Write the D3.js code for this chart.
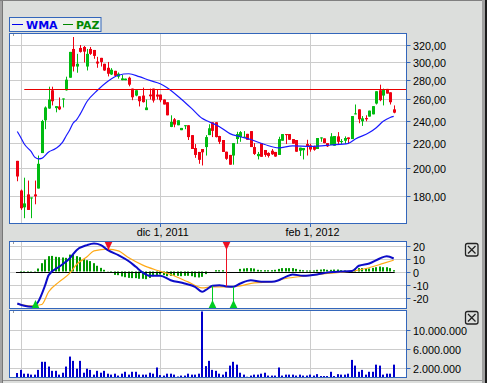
<!DOCTYPE html>
<html>
<head>
<meta charset="utf-8">
<script src="https://d3js.org/d3.v7.min.js"></script>
<style>
  html, body { margin: 0; padding: 0; background: #dcdedc; }
  svg { display: block; }
  text { font-family: "Liberation Sans", Arial, sans-serif; font-size: 10.8px; fill: #000; }
  .legend text { font-family: "DejaVu Sans", sans-serif; font-size: 11px; font-weight: bold; }
</style>
</head>
<body>
<svg id="chart" width="487" height="383"></svg>
<script>
// Candles, one per trading day
const opens = [205.8,183.8,172.4,181.1,178.4,181.1,185.2,212,240.2,251.2,269.3,251.6,253.2,260,269.3,282.5,315.2,294.8,316.4,317.6,
  294.8,315.2,314,300.4,304.7,297.9,293.4,286,290,283.6,279.8,279.8,282.5,271,263.9,263.2,263.9,249.7,264.9,271,
  264.9,264.9,260,257.3,234.2,241.1,235.7,231.3,234.8,235.7,227,216.1,212.9,215.3,216.9,227,238.4,238.4,226.2,222.8,
  213.1,210.5,210,223.6,225.3,224.7,228.1,230.5,216.9,209.5,220.2,214.5,212.1,213.9,212.9,210.5,222.2,227.9,227.9,223.6,
  222.8,213.9,214.3,219.4,218.3,217.3,215.3,224.2,224.2,220.2,218.6,218,225.9,221.1,222.2,225,223.6,245.7,250.4,239.3,
  242.3,243.6,245.7,256,269.3,263.9,270.7,267.2,250.4];
const closes = [193.9,171.8,175,170.7,179,179.8,203.5,239.5,252.2,260,258.3,253.5,250.4,261,280.4,311.7,294.8,297.9,311.7,312,
  309.4,309.4,307,298.2,300,290.4,286.8,291.2,284.6,286.8,281.8,281.5,275.1,262.2,269.3,258.3,257.4,252.2,263.2,259,
  262.9,259.3,255.1,244.8,238.7,236.3,240.2,233.3,235.7,225.3,215.3,210.5,206.6,212.6,225.3,233,230.7,225.3,221.3,212.9,
  207.4,202.8,220.2,227.9,229.6,225.6,223,216.9,211.3,211.3,209,210.5,209.7,211,209.2,223.6,227.9,227,223,219.7,
  213.1,216.4,216.1,217.5,214.9,214.7,224.5,225,220.2,217.5,225.9,226.2,221.3,221.9,224.5,223.6,244.1,246.6,241.1,242,
  241.1,249.2,253.5,268.3,259.3,270,265.9,257.3,247.3];
const highs = [205.8,184.5,193,190.9,179,190.9,210,240.6,253.2,273,273,253.5,262,261,283.6,311.7,329.9,309.4,320,318.8,
  315.2,317.6,314,305.9,304.7,297.9,300,293,290,288.2,285.4,281.5,283.6,271,269.3,263.2,272,260,271,271,
  270,264.9,260,257.3,244.8,242.3,240.2,233.3,235.7,235.7,227,219.4,212.9,215.3,227,236.6,238.4,238.4,226.4,222.8,
  213.1,210.5,220.2,229.9,230.5,230.5,228.1,230.5,220.2,212.9,220.2,214.5,212.6,215.3,212.9,225.6,227.9,227.9,227.9,223.6,
  222.8,216.4,216.1,223,219.7,218,224.5,225,224.2,220.2,228.7,226.2,229.6,223.6,225.9,225,244.1,255.1,250.4,244.1,
  244.8,249.2,253.5,268.3,275.1,271,270.7,267.2,254.2];
const lows = [190.4,170.7,165.4,170.7,165.4,174.4,185.2,212,232.2,251,254.2,247.6,249.7,252.2,269,282.5,289.3,287.9,310.9,299.4,
  290.4,308.2,303.6,293.4,294.8,290,283.9,285.4,283.3,281.5,279.8,279.8,273.4,259.3,263.2,253.2,257,249.7,260,257,
  260,257.3,255.1,244.8,234,233.9,235.7,231.3,232.2,222.8,215.3,208.2,203.5,202.2,210,227,225.3,225,219.4,212.9,
  206.6,202.8,202.8,219.6,221.3,224.7,223,216.9,210.5,206.9,209,209,208.4,210.5,209,210.5,222.2,219.4,223,219.7,
  213,209.7,206.9,210,213.1,213.9,215.3,221.3,220,217,218.6,218,218.6,219.4,219.4,219.4,223.6,245.7,237.5,235.1,
  239.3,243.6,245.7,255.1,258.3,254.2,265.9,255.1,246.7];

// Weighted moving average, read at these candle positions
const wmaIndex = [0,1,2,4,5,6,7,9,11,13,14,15,16,17,18,20,23,26,29,32,35,38,41,43,47,50,53,55,58,61,64,67,71,75,79,84,90,95,97,101,103,105,107,108];
const wmaValues = [230.2,225,219.4,213.1,208.7,207.4,207.8,212.9,215.7,221,226.2,231.3,237.5,240.6,245.7,258,269.3,278.8,285.2,286.8,283.6,279.6,276.1,272,260.5,251.3,242,238.9,234.4,228.3,225.6,223.2,219,216.3,217.8,217.5,218.6,220,223.6,229.2,233.5,239.3,242.8,243.8];
const resistance = 270.7;

// MACD panel
const histValues = [0,-1.2,-1,-1,-0.3,0.3,2.3,6.4,9.2,11.8,12,11.3,11,10.8,10.5,13,13,11.8,11,9.5,
  8.7,8,6.4,4.4,2.8,1.3,0.2,-1,-2.6,-2.8,-3.8,-4.4,-4.9,-5.1,-5.1,-5.6,-5.6,-5.9,-4.9,-3.6,
  -2.8,-2.3,-2.8,-3.6,-3.3,-3.3,-3.3,-3.6,-3.3,-3.3,-3.6,-4.4,-4.6,-4.1,-2,0,0,1,1,1,
  0,0,0,0,2,2.3,2.6,2.6,2.3,1.3,1,1,1,1,1.3,2,2.6,2.6,2.6,2.6,
  2,1.3,1,0.8,0.8,0.8,1.3,1.5,1.8,1.3,1.3,1.5,1.5,1,0.8,0.3,0.5,2,2.6,2.6,
  2.6,2.3,2.8,3.3,3.8,3.3,3.3,2.6,1];
const macdIndex = [0,2,4,5,6,8,9,12,15,17,20,22,24,26,29,32,34,36,38,41,44,48,51,53,54,56,58,60,62,64,67,70,73,75,77,79,82,86,89,91,96,98,101,104,106,108];
const macdValues = [-24.6,-26.4,-27.2,-26.7,-23.3,-10.5,-2.8,3.6,10,16.4,20.3,21.5,20.3,16.4,12.6,7.9,3.6,-0.8,-3.3,-3.3,-6.7,-9.2,-11.8,-15.6,-14.4,-11,-10.5,-11.5,-11.8,-9.2,-6.7,-7.9,-7.9,-6.7,-4.1,-2.3,-3.3,-2.3,-0.8,-0.3,0.3,4.4,6.2,10,11.8,10];
const signalIndex = [0,4,7,9,12,15,17,20,22,26,29,32,36,40,44,49,53,56,60,64,68,73,77,82,89,91,96,100,105,108];
const signalValues = [-25,-26.4,-25.4,-15.6,-8,-1.5,5.4,11.3,15.9,17.2,15.9,10.5,4.9,1,-2.3,-8,-12.6,-11.8,-11.8,-11,-8.7,-8,-5.4,-3.6,-1.5,-1,0.3,2.3,6.2,8.7];
const buySignals = [5,56,62];
const sellSignals = [26,60];

// Volume panel, in millions
const volumes = [0.84,1.5,0.7,0.7,0.5,0.5,1.5,3.2,3.2,2.2,1.3,1.3,0.5,0.9,2.2,4.3,3.4,1.75,3.4,0.9,
  1.75,1.5,0.5,1.3,0.9,1.3,0.7,0.5,0.7,0.3,0.7,1.1,0.5,1.1,1.1,0.5,0.5,0.5,0.9,0.7,
  2,0.4,0.3,0.7,0.7,0.5,0.1,0.3,0.3,0.7,0.5,0.5,0.7,13.8,2.3,3.4,1.5,1.3,0.7,0.5,
  1.1,2.4,3.2,2.6,0.9,0.5,0.05,0.3,0.5,0.5,0.7,0.9,0.3,0.3,0.3,2,0.3,0.5,0.5,0.5,
  0.3,0.5,0.3,0.3,0.5,0.3,0.6,0.2,0.2,0.2,1.1,0.2,0.6,0.5,0.5,0.7,3.6,2.4,1.1,1.5,
  0.5,1.1,1.1,2.6,2.4,0.5,0.7,0.7,2.6];

const priceTicks = [320,300,280,260,240,220,200,180];
const macdTicks = [20,10,0,-10,-20];
const volumeTicks = [10,6,2];
const dateTicks = [1,41,84];
const dateLabels = ['', 'dic 1, 2011', 'feb 1, 2012'];

const frame = '#3366bb', grid = '#cccccc', up = '#00bb11', down = '#ee0011';
const left = 9.5, right = 406.5;
const svg = d3.select('#chart');

// Window chrome
svg.append('rect').attr('width', 487).attr('height', 383).attr('fill', '#dcdedc');
svg.append('rect').attr('x', 0).attr('y', 0).attr('width', 2).attr('height', 383).attr('fill', '#a4a4a4');
svg.append('rect').attr('x', 2).attr('y', 0).attr('width', 1).attr('height', 383).attr('fill', '#777');
svg.append('rect').attr('x', 0).attr('y', 0).attr('width', 482).attr('height', 1).attr('fill', '#808080');
svg.append('rect').attr('x', 3).attr('y', 380).attr('width', 479).attr('height', 1).attr('fill', '#999');
svg.append('rect').attr('x', 482).attr('y', 0).attr('width', 3).attr('height', 383).attr('fill', '#a0a0a0');
svg.append('rect').attr('x', 485).attr('y', 0).attr('width', 2).attr('height', 383).attr('fill', '#1c1c1c');

const x = d3.scaleLinear().domain([0, 108]).range([17.3, 393.7]);
const y = d3.scaleLog().domain([180, 320]).range([196, 45]);
const yMacd = d3.scaleLinear().domain([-20, 20]).range([297.5, 245.5]);
const yVol = d3.scaleLinear().domain([2, 10]).range([367.5, 329.5]);

function panel(top, bottom, yScale, ticks, fmt) {
  const g = svg.append('g');
  g.append('rect').attr('x', left).attr('y', top).attr('width', right - left).attr('height', bottom - top)
    .attr('fill', '#fff');
  g.selectAll('.h').data(ticks).join('line')
    .attr('x1', left).attr('x2', right)
    .attr('y1', d => Math.round(yScale(d)) + 0.5).attr('y2', d => Math.round(yScale(d)) + 0.5)
    .attr('stroke', grid);
  g.selectAll('.v').data(dateTicks).join('line')
    .attr('x1', d => Math.round(x(d)) + 0.5).attr('x2', d => Math.round(x(d)) + 0.5)
    .attr('y1', top).attr('y2', bottom)
    .attr('stroke', grid);
  g.selectAll('.tick').data(ticks).join('line')
    .attr('x1', right).attr('x2', right + 4)
    .attr('y1', d => Math.round(yScale(d)) + 0.5).attr('y2', d => Math.round(yScale(d)) + 0.5)
    .attr('stroke', frame);
  g.selectAll('text').data(ticks).join('text')
    .attr('x', 413).attr('y', d => Math.round(yScale(d)) + 4.5)
    .text(fmt);
  g.append('rect').attr('x', 13).attr('y', top + 1).attr('width', 1).attr('height', 1).attr('fill', '#333');
  return g;
}

function border(top, bottom) {
  svg.append('rect').attr('x', left).attr('y', top).attr('width', right - left).attr('height', bottom - top)
    .attr('fill', 'none').attr('stroke', frame);
}

// Price panel
panel(33.5, 223.5, y, priceTicks, d => d + ',00');

svg.append('g').selectAll('line').data(highs).join('line')
  .attr('x1', (d, i) => Math.round(x(i)) + 0.5).attr('x2', (d, i) => Math.round(x(i)) + 0.5)
  .attr('y1', d => y(d)).attr('y2', (d, i) => y(lows[i]))
  .attr('stroke', (d, i) => closes[i] < opens[i] ? down : up);
svg.append('g').selectAll('rect').data(opens).join('rect')
  .attr('x', (d, i) => Math.round(x(i)) - 1)
  .attr('width', 3)
  .attr('y', (d, i) => y(Math.max(d, closes[i])))
  .attr('height', (d, i) => Math.max(1, Math.abs(y(d) - y(closes[i]))))
  .attr('fill', (d, i) => closes[i] < d ? down : up);

svg.append('path')
  .attr('d', d3.line().x(d => x(d)).y((d, i) => y(wmaValues[i])).curve(d3.curveMonotoneX)(wmaIndex))
  .attr('fill', 'none').attr('stroke', '#1a1aff').attr('stroke-width', 1.2);

svg.append('line').attr('x1', x(2)).attr('x2', right)
  .attr('y1', Math.round(y(resistance)) + 0.5).attr('y2', Math.round(y(resistance)) + 0.5)
  .attr('stroke', '#e80000');
border(33.5, 223.5);

// Date axis
svg.append('g').selectAll('line').data(dateTicks.slice(1)).join('line')
  .attr('x1', d => Math.round(x(d)) + 0.5).attr('x2', d => Math.round(x(d)) + 0.5)
  .attr('y1', 223.5).attr('y2', 227).attr('stroke', frame);
svg.append('g').selectAll('text').data(dateTicks.slice(1)).join('text')
  .attr('x', d => x(d) + 2.5).attr('y', 236).attr('text-anchor', 'middle')
  .text((d, i) => dateLabels[i + 1]);

// MACD panel
panel(241.5, 308.5, yMacd, macdTicks, d => d);
svg.append('g').selectAll('rect').data(histValues).join('rect')
  .attr('x', (d, i) => Math.round(x(i)) - 1)
  .attr('width', 2)
  .attr('y', d => Math.min(yMacd(d), yMacd(0)))
  .attr('height', d => Math.abs(yMacd(d) - yMacd(0)))
  .attr('fill', '#009900');
svg.append('line').attr('x1', 16).attr('x2', x(108) + 1)
  .attr('y1', Math.round(yMacd(0)) + 0.5).attr('y2', Math.round(yMacd(0)) + 0.5).attr('stroke', '#000');
svg.append('path')
  .attr('d', d3.line().x(d => x(d)).y((d, i) => yMacd(signalValues[i])).curve(d3.curveMonotoneX)(signalIndex))
  .attr('fill', 'none').attr('stroke', '#ffaa18').attr('stroke-width', 1.2);
svg.append('path')
  .attr('d', d3.line().x(d => x(d)).y((d, i) => yMacd(macdValues[i])).curve(d3.curveMonotoneX)(macdIndex))
  .attr('fill', 'none').attr('stroke', '#0c0cc8').attr('stroke-width', 2);

// Signal arrows, the stem runs from the arrow to the MACD line
function macdAt(i) {
  const k = d3.bisectLeft(macdIndex, i);
  return macdValues[Math.min(k, macdValues.length - 1)];
}
buySignals.forEach(i => {
  const cx = Math.round(x(i)) + 0.5;
  svg.append('line').attr('x1', cx).attr('x2', cx).attr('y1', yMacd(macdAt(i))).attr('y2', 302).attr('stroke', '#00cc22');
  svg.append('path').attr('d', `M${cx},300 L${cx + 3.8},308 L${cx - 3.8},308 Z`).attr('fill', '#00cc22');
});
sellSignals.forEach(i => {
  const cx = Math.round(x(i)) + 0.5;
  svg.append('line').attr('x1', cx).attr('x2', cx).attr('y1', 247).attr('y2', yMacd(macdAt(i))).attr('stroke', '#ee1122');
  svg.append('path').attr('d', `M${cx},250 L${cx + 3.8},242 L${cx - 3.8},242 Z`).attr('fill', '#ee1122');
});
border(241.5, 308.5);

// Volume panel
panel(310.5, 377.5, yVol, volumeTicks, d => d3.format(',')(d * 1000000).replace(/,/g, '.'));
svg.append('g').selectAll('rect').data(volumes).join('rect')
  .attr('x', (d, i) => Math.round(x(i)) - 1)
  .attr('width', 2)
  .attr('y', d => yVol(d))
  .attr('height', d => yVol(0) - yVol(d))
  .attr('fill', '#0000cc');
border(310.5, 377.5);

// Close buttons
[243.5, 311.5].forEach(top => {
  const b = svg.append('g').attr('fill', 'none').attr('stroke', '#222').attr('stroke-width', 1.3);
  b.append('rect').attr('x', 465.5).attr('y', top).attr('width', 12.5).attr('height', 12.5).attr('rx', 2);
  b.append('path').attr('d', `M468,${top + 2.5} L475.5,${top + 10} M475.5,${top + 2.5} L468,${top + 10}`);
});

// Legend
const legend = svg.append('g').attr('class', 'legend');
legend.append('rect').attr('x', 9.5).attr('y', 17.5).attr('width', 91.5).attr('height', 14)
  .attr('fill', '#eef0ee').attr('stroke', frame);
legend.append('line').attr('x1', 12).attr('x2', 23).attr('y1', 24.5).attr('y2', 24.5).attr('stroke', '#0000ee');
legend.append('text').attr('x', 26).attr('y', 28.5).style('fill', '#0000ee').text('WMA');
legend.append('line').attr('x1', 63).attr('x2', 73).attr('y1', 24.5).attr('y2', 24.5).attr('stroke', '#008800');
legend.append('text').attr('x', 76).attr('y', 28.5).style('fill', '#008800').text('PAZ');
</script>
</body>
</html>
